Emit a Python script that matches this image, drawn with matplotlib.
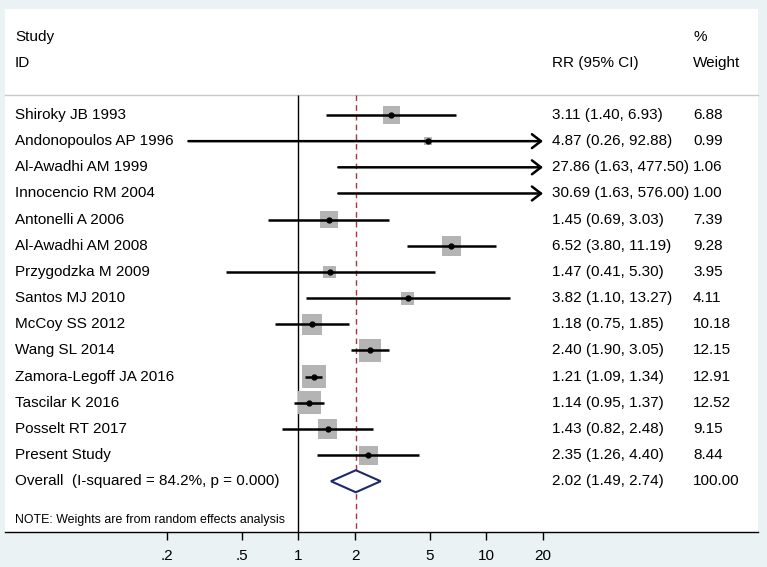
import numpy as np
import matplotlib
matplotlib.use("Agg")
import matplotlib.pyplot as plt
from matplotlib.transforms import blended_transform_factory
from matplotlib.patches import Polygon

# ---------------- data ----------------
studies = ["Shiroky JB 1993", "Andonopoulos AP 1996", "Al-Awadhi AM 1999",
           "Innocencio RM 2004", "Antonelli A 2006", "Al-Awadhi AM 2008",
           "Przygodzka M 2009", "Santos MJ 2010", "McCoy SS 2012",
           "Wang SL 2014", "Zamora-Legoff JA 2016", "Tascilar K 2016",
           "Posselt RT 2017", "Present Study"]
rr = [3.11, 4.87, 27.86, 30.69, 1.45, 6.52, 1.47, 3.82, 1.18, 2.40, 1.21, 1.14, 1.43, 2.35]
lo = [1.40, 0.26, 1.63, 1.63, 0.69, 3.80, 0.41, 1.10, 0.75, 1.90, 1.09, 0.95, 0.82, 1.26]
hi = [6.93, 92.88, 477.50, 576.00, 3.03, 11.19, 5.30, 13.27, 1.85, 3.05, 1.34, 1.37, 2.48, 4.40]
weight = [6.88, 0.99, 1.06, 1.00, 7.39, 9.28, 3.95, 4.11, 10.18, 12.15, 12.91, 12.52, 9.15, 8.44]

overall_label = "Overall  (I-squared = 84.2%, p = 0.000)"
overall_rr, overall_lo, overall_hi, overall_w = 2.02, 1.49, 2.74, 100.00
note = "NOTE: Weights are from random effects analysis"

tick_vals = [0.2, 0.5, 1, 2, 5, 10, 20]
tick_labels = [".2", ".5", "1", "2", "5", "10", "20"]
x_min_shown, x_max_shown = 0.2, 20

# ---------------- layout ----------------
W, H = 767, 567
plt.rcParams['font.family'] = ['Liberation Sans', 'DejaVu Sans']
fig = plt.figure(figsize=(W / 100, H / 100), dpi=100)
fig.patch.set_facecolor('#eaf2f3')

pl, pr, pt, pb = 5, 758, 9, 532          # panel pixels
ax = fig.add_axes([pl / W, (H - pb) / H, (pr - pl) / W, (pb - pt) / H])
ax.set_facecolor('white')

# x mapping: 0.2 at px 167, 20 at px 543
px_lo, px_hi = 167, 543
ppd = (px_hi - px_lo) / (np.log10(x_max_shown) - np.log10(x_min_shown))
ax.set_xscale('log')
ax.set_xlim(10 ** (np.log10(x_min_shown) - (px_lo - pl) / ppd),
            10 ** (np.log10(x_max_shown) + (pr - px_hi) / ppd))

# y mapping: rows
row0, rstep = 115, 26.16
ax.set_ylim((pb - row0) / rstep, (pt - row0) / rstep)

def fx(px):
    return (px - pl) / (pr - pl)

tr = blended_transform_factory(ax.transAxes, ax.transData)
fs = 11

# headers
ax.text(fx(15), -2.97, "Study", transform=tr, va='center', ha='left', fontsize=fs)
ax.text(fx(15), -1.97, "ID", transform=tr, va='center', ha='left', fontsize=fs)
ax.text(fx(552), -1.97, "RR (95% CI)", transform=tr, va='center', ha='left', fontsize=fs)
ax.text(fx(693), -2.97, "%", transform=tr, va='center', ha='left', fontsize=fs)
ax.text(fx(693), -1.97, "Weight", transform=tr, va='center', ha='left', fontsize=fs)

sep = (95 - row0) / rstep
ax.plot([0, 1], [sep, sep], transform=tr, color='#c8c8c8', lw=1.0, clip_on=False)

bottom = ax.get_ylim()[0]
ax.vlines(1, sep, bottom, color='black', lw=1.0)
ax.vlines(overall_rr, sep, bottom, color='#a8343f', lw=1.0, linestyles=(0, (4, 3)))

px2pt = 0.72
for i, (name, r, l, h, w) in enumerate(zip(studies, rr, lo, hi, weight)):
    ax.text(fx(15), i, name, transform=tr, va='center', ha='left', fontsize=fs)
    ax.text(fx(552), i, f"{r:.2f} ({l:.2f}, {h:.2f})", transform=tr,
            va='center', ha='left', fontsize=fs)
    ax.text(fx(693), i, f"{w:.2f}", transform=tr, va='center', ha='left', fontsize=fs)
    # box
    if x_min_shown <= r <= x_max_shown:
        side = max(6.5 * np.sqrt(w), 8) * px2pt
        ax.scatter([r], [i], marker='s', s=side ** 2, color='#b4b4b4',
                   edgecolors='none', zorder=2)
    # CI
    l_c = max(l, x_min_shown)
    if h > x_max_shown:
        ax.annotate('', xy=(x_max_shown, i), xytext=(l_c, i),
                    arrowprops=dict(arrowstyle='->,head_length=0.65,head_width=0.5',
                                    lw=1.8, color='black', shrinkA=0, shrinkB=0),
                    zorder=3)
    else:
        ax.plot([l_c, h], [i, i], color='black', lw=1.8, zorder=3,
                solid_capstyle='butt')
    if x_min_shown <= r <= x_max_shown:
        ax.plot([r], [i], 'o', color='black', ms=3.5, zorder=4)

# overall
n = len(studies)
ax.text(fx(15), n, overall_label, transform=tr, va='center', ha='left', fontsize=fs)
ax.text(fx(552), n, f"{overall_rr:.2f} ({overall_lo:.2f}, {overall_hi:.2f})",
        transform=tr, va='center', ha='left', fontsize=fs)
ax.text(fx(693), n, f"{overall_w:.2f}", transform=tr, va='center', ha='left', fontsize=fs)
dh = 11 / rstep
diamond = Polygon([(overall_lo, n), (overall_rr, n - dh), (overall_hi, n),
                   (overall_rr, n + dh)], closed=True, facecolor='white',
                  edgecolor='#1c2a6b', lw=1.5, zorder=3)
ax.add_patch(diamond)

ax.text(fx(15), (520 - row0) / rstep, note, transform=tr, va='center', ha='left',
        fontsize=8.9)

# axes styling
for s in ['top', 'left', 'right']:
    ax.spines[s].set_visible(False)
ax.spines['bottom'].set_color('black')
ax.spines['bottom'].set_linewidth(1.0)
ax.set_yticks([])
ax.set_xticks(tick_vals)
ax.set_xticklabels(tick_labels)
ax.xaxis.set_minor_locator(matplotlib.ticker.NullLocator())
ax.tick_params(axis='x', direction='out', length=5.5, width=1.0, labelsize=fs, pad=6.5)

fig.savefig("out.png", dpi=100, facecolor=fig.get_facecolor())
